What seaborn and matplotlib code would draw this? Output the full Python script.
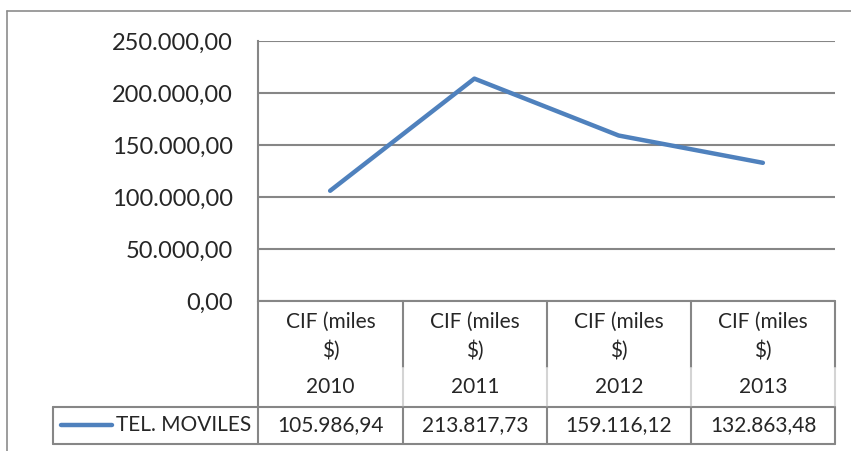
import matplotlib
matplotlib.use("Agg")
import matplotlib.pyplot as plt
import seaborn as sns
import pandas as pd
from matplotlib.lines import Line2D

cat_top = ["CIF (miles", "CIF (miles", "CIF (miles", "CIF (miles"]
cat_mid = ["$)", "$)", "$)", "$)"]
years = ["2010", "2011", "2012", "2013"]
series_name = "TEL. MOVILES"
values = [105986.94, 213817.73, 159116.12, 132863.48]
yticks = [0, 50000, 100000, 150000, 200000, 250000]

sns.set_theme(style="white")
plt.rcParams['font.family'] = ['Lato', 'DejaVu Sans']

W, H = 851, 451
DPI = 100
fig = plt.figure(figsize=(W / DPI, H / DPI), dpi=DPI)
fig.patch.set_facecolor("white")

def fx(px):
    return px / W

def fy(py):
    return 1 - py / H

def fmt(v):
    return f"{v:,.2f}".replace(",", "X").replace(".", ",").replace("X", ".")

L, R, T, B = 258, 835, 41, 301
ax = fig.add_axes([fx(L), fy(B), fx(R) - fx(L), fy(T) - fy(B)])

df = pd.DataFrame({"x": range(len(values)), "v": values})
sns.lineplot(data=df, x="x", y="v", ax=ax, color="#4F81BD", linewidth=3.2,
             solid_capstyle="round", solid_joinstyle="round")
ax.set_xlim(-0.5, len(values) - 0.5)
ax.set_ylim(0, 250000)
ax.set_yticks(yticks)
ax.set_yticklabels([fmt(v) for v in yticks], fontsize=17)
ax.set_xticks([])
ax.set_xlabel("")
ax.set_ylabel("")
ax.tick_params(axis="y", length=0, pad=18)
ax.grid(axis="y", color="#868686", linewidth=1.5)
ax.set_axisbelow(True)
for s in ["top", "right", "bottom"]:
    ax.spines[s].set_visible(False)
ax.spines["left"].set_color("#868686")
ax.spines["left"].set_linewidth(1.5)

gray = "#868686"
light = "#d4d4d4"

def hline(y, x0, x1, c=gray, lw=1.5):
    fig.add_artist(Line2D([fx(x0), fx(x1)], [fy(y), fy(y)], color=c, linewidth=lw))

def vline(x, y0, y1, c=gray, lw=1.5):
    fig.add_artist(Line2D([fx(x), fx(x)], [fy(y0), fy(y1)], color=c, linewidth=lw))

# outer chart frame
hline(11, 7, 851, c="#8c8c8c", lw=1.2)
vline(7, 11, 451, c="#8c8c8c", lw=1.2)

# data table
cols = [258, 403, 547, 691, 835]
hline(301, 258, 835)
hline(407, 53, 835)
hline(444, 53, 835)
vline(258, 301, 444)
vline(53, 407, 444)
for x in cols[1:]:
    vline(x, 301, 368)
    vline(x, 368, 407, c=light)
    vline(x, 407, 444)

fs = 15
for i in range(len(values)):
    cx = (cols[i] + cols[i + 1]) / 2
    fig.text(fx(cx), fy(322), cat_top[i], ha="center", va="center", fontsize=fs)
    fig.text(fx(cx), fy(351), cat_mid[i], ha="center", va="center", fontsize=fs)
    fig.text(fx(cx), fy(387), years[i], ha="center", va="center", fontsize=fs)
    fig.text(fx(cx), fy(425), fmt(values[i]), ha="center", va="center", fontsize=fs)

fig.add_artist(Line2D([fx(61), fx(112)], [fy(425), fy(425)], color="#4F81BD",
                      linewidth=3.2, solid_capstyle="round"))
fig.text(fx(251), fy(425), series_name, ha="right", va="center", fontsize=fs)

fig.savefig("out.png", dpi=DPI, facecolor="white")
